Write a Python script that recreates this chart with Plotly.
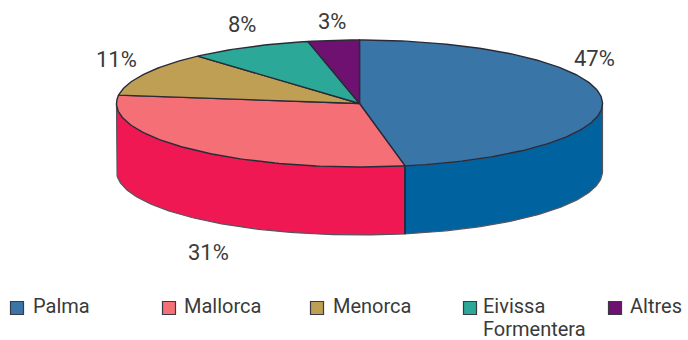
import math
import plotly.graph_objects as go

categories = ["Palma", "Mallorca", "Menorca", "Eivissa<br>Formentera", "Altres"]
percent_labels = ["47%", "31%", "11%", "8%", "3%"]
# share of the circle each slice occupies as drawn
shares = [47.0, 30.1, 11.3, 8.2, 3.4]
top_colors = ["#3a75a8", "#f47076", "#bf9f54", "#2ba898", "#6f1170"]
side_colors = ["#00629f", "#ef1852", None, None, None]

CX, CY, RX, RY, DEPTH = 359.5, 103.5, 243, 63.5, 68
INK = "#2b2b38"
FONT = "Roboto, sans-serif"
TEXT = "#3a3a3a"


def pt(deg, drop=0):
    r = math.radians(deg)
    return CX + RX * math.sin(r), CY - RY * math.cos(r) + drop


def arc(a, b, drop=0):
    n = max(2, int(abs(b - a)) + 1)
    pts = [pt(a + (b - a) * i / (n - 1), drop) for i in range(n)]
    return [p[0] for p in pts], [p[1] for p in pts]


fig = go.Figure()
bounds = [0]
for s in shares:
    bounds.append(bounds[-1] + s * 3.6)

# side walls (only the part facing the viewer)
for i, col in enumerate(side_colors):
    if col is None:
        continue
    a, b = max(bounds[i], 90), min(bounds[i + 1], 270)
    x1, y1 = arc(a, b)
    x2, y2 = arc(b, a, DEPTH)
    fig.add_trace(go.Scatter(x=x1 + x2 + x1[:1], y=y1 + y2 + y1[:1], mode="lines",
                             fill="toself", fillcolor=col,
                             line=dict(color="#55555f", width=1.2), hoverinfo="skip"))

# divider between the two visible walls
dx, dy = pt(bounds[1])
fig.add_trace(go.Scatter(x=[dx, dx], y=[dy, dy + DEPTH], mode="lines",
                         line=dict(color=INK, width=2), hoverinfo="skip"))

# top face
for i, col in enumerate(top_colors):
    xs, ys = arc(bounds[i], bounds[i + 1])
    fig.add_trace(go.Scatter(x=[CX] + xs + [CX], y=[CY] + ys + [CY], mode="lines",
                             fill="toself", fillcolor=col,
                             line=dict(color=INK, width=1.4), hoverinfo="skip"))

# percentage labels
label_pos = [(594, 58), (208, 252), (116, 59), (242, 24), (332, 21)]
for (x, y), t in zip(label_pos, percent_labels):
    fig.add_annotation(x=x, y=y, text=t, showarrow=False,
                       font=dict(family=FONT, size=22, color=TEXT))

# legend
swatch_x = [17, 169, 317, 470, 615]
text_x = [33, 184, 333, 483, 630]
fig.add_trace(go.Scatter(x=swatch_x, y=[308] * 5, mode="markers",
                         marker=dict(symbol="square", size=13, color=top_colors,
                                     line=dict(color="#3a3a44", width=1.2)),
                         hoverinfo="skip"))
lx, ly, lt = [], [], []
for x, t in zip(text_x, categories):
    for row, part in enumerate(t.split("<br>")):
        lx.append(x)
        ly.append(308 + row * 23)
        lt.append(part)
fig.add_trace(go.Scatter(x=lx, y=ly, text=lt, mode="text", textposition="middle right",
                         textfont=dict(family=FONT, size=20, color=TEXT),
                         cliponaxis=False, hoverinfo="skip"))

fig.update_layout(width=688, height=340, margin=dict(l=0, r=0, t=0, b=0),
                  showlegend=False, paper_bgcolor="white", plot_bgcolor="white",
                  xaxis=dict(range=[0, 688], visible=False, fixedrange=True),
                  yaxis=dict(range=[340, 0], visible=False, fixedrange=True))
fig.write_html("out.html", config={"displayModeBar": False},
               post_script="document.body.style.margin='0';document.documentElement.style.overflow='hidden';")
